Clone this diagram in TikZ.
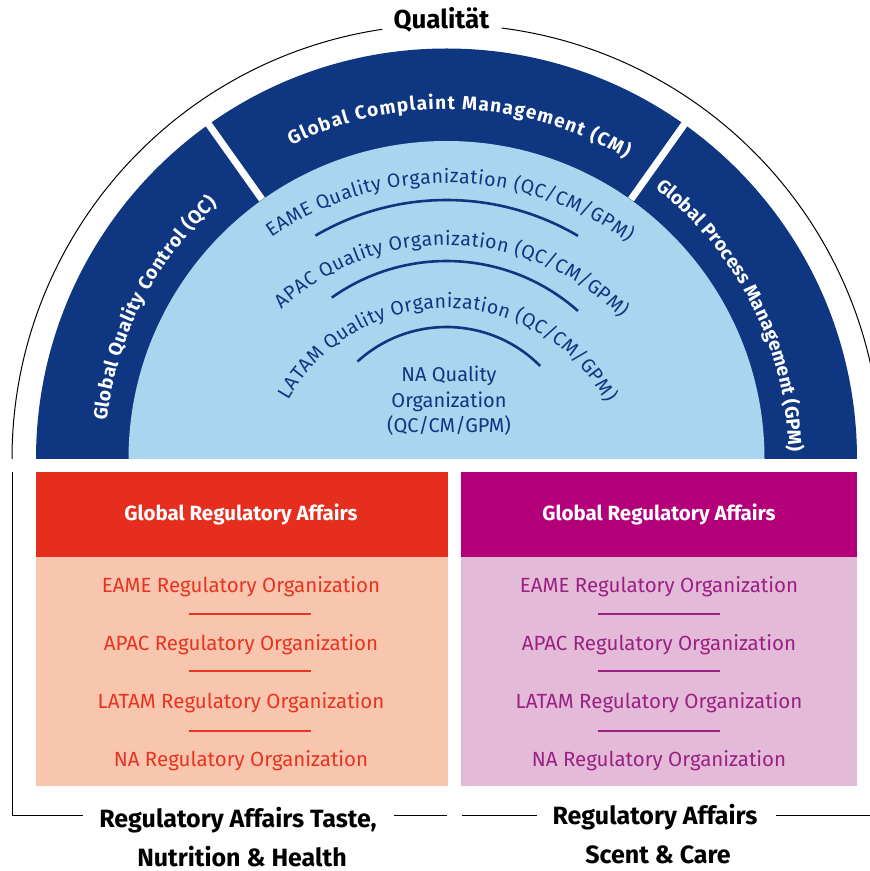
\documentclass[tikz,border=0pt]{standalone}
\usepackage{fontspec}
\setmainfont{Fira Sans}
\usetikzlibrary{decorations.text}
\definecolor{dkblue}{HTML}{0E3681}
\definecolor{ltblue}{HTML}{A9D5EF}
\definecolor{redhead}{HTML}{E62E1F}
\definecolor{redbody}{HTML}{F8C6AE}
\definecolor{redtext}{HTML}{E8331F}
\definecolor{maghead}{HTML}{B3007A}
\definecolor{magbody}{HTML}{E3BBD8}
\definecolor{magtext}{HTML}{9C1F83}
\newcommand\qband{\fontsize{19}{22}\selectfont\bfseries\color{white}}
\newcommand\qinner{\fontsize{19.5}{23}\selectfont\color{dkblue}}
\begin{document}
\begin{tikzpicture}[x=1pt,y=1pt,
  boxtext/.style={font=\fontsize{20.5}{24}\selectfont, anchor=base},
  headtext/.style={font=\bfseries\fontsize{20.5}{24}\selectfont, text=white, anchor=base},
  labeltext/.style={font=\bfseries\fontsize{25}{29}\selectfont, anchor=base},
  sepline/.style={line width=1.3pt},
  frame/.style={line width=1pt, black}]
\useasboundingbox (0,0) rectangle (870,871);
\coordinate (C) at (446.5,412);
\coordinate (T) at (446.5,381);
% outer frame arc
\draw[frame] ([shift={(180:434.5)}]C) arc[start angle=180,end angle=98.5,radius=434.5];
\draw[frame] ([shift={(82.7:434.5)}]C) arc[start angle=82.7,end angle=0,radius=434.5];
\node[labeltext,font=\bfseries\fontsize{26}{30}\selectfont] (qual) at (441.5,842) {Qualität};
% bands
\fill[dkblue] ([shift={(180:410.5)}]C) arc[start angle=180,end angle=0,radius=410.5] -- cycle;
\fill[ltblue] ([shift={(180:318)}]C) arc[start angle=180,end angle=0,radius=318] -- cycle;
\draw[white,line width=7pt] ([shift={(125.4:318.5)}]C) -- ([shift={(125.4:413)}]C);
\draw[white,line width=7pt] ([shift={(54.6:318.5)}]C) -- ([shift={(54.6:413)}]C);
% band texts
\path[decoration={text along path,text={|\qband|Global Quality Control (QC)},text align=fit to path},decorate]
  ([shift={(173.6:342)}]C) arc[start angle=173.6,end angle=132,radius=342];
\path[decoration={text along path,text={|\qband|Global Complaint Management (CM)},text align=fit to path},decorate]
  ([shift={(116.3:350)}]C) arc[start angle=116.3,end angle=59.2,radius=350];
\path[decoration={text along path,text={|\qband|Global Process Management (GPM)},text align=fit to path},decorate]
  ([shift={(52.4:342)}]C) arc[start angle=52.4,end angle=1.2,radius=342];
% inner texts
\path[decoration={text along path,text={|\qinner|EAME Quality Organization (QC/CM/GPM)},text align=fit to path},decorate]
  ([shift={(124.8:307)}]T) arc[start angle=124.8,end angle=53.8,radius=307];
\path[decoration={text along path,text={|\qinner|APAC Quality Organization (QC/CM/GPM)},text align=fit to path},decorate]
  ([shift={(132.4:245)}]T) arc[start angle=132.4,end angle=44.6,radius=245];
\path[decoration={text along path,text={|\qinner|LATAM Quality Organization (QC/CM/GPM)},text align=fit to path},decorate]
  ([shift={(150.4:182)}]T) arc[start angle=150.4,end angle=28.6,radius=182];
\draw[dkblue,line width=2.6pt] ([shift={(120.4:259)}]C) arc[start angle=120.4,end angle=59.5,radius=259];
\draw[dkblue,line width=2.6pt] ([shift={(125.4:198)}]C) arc[start angle=125.4,end angle=48.4,radius=198];
\draw[dkblue,line width=2.6pt] ([shift={(132.4:132)}]C) arc[start angle=132.4,end angle=44.8,radius=132];
\node[font=\fontsize{20}{25.5}\selectfont,text=dkblue,align=center] (na) at (449,470) {NA Quality\\Organization\\(QC/CM/GPM)};
% boxes
\fill[redhead] (36,399) rectangle (448,314);
\fill[redbody] (36,314) rectangle (448,85);
\fill[maghead] (461,399) rectangle (857,314);
\fill[magbody] (461,314) rectangle (857,85);
\node[headtext] (rh) at (241,350) {Global Regulatory Affairs};
\node[headtext] (mh) at (659,350) {Global Regulatory Affairs};
\node[boxtext,text=redtext] (r1) at (241,278) {EAME Regulatory Organization};
\node[boxtext,text=redtext] (r2) at (241,220) {APAC Regulatory Organization};
\node[boxtext,text=redtext] (r3) at (241,162) {LATAM Regulatory Organization};
\node[boxtext,text=redtext] (r4) at (241,104) {NA Regulatory Organization};
\node[boxtext,text=magtext] (m1) at (659,278) {EAME Regulatory Organization};
\node[boxtext,text=magtext] (m2) at (659,220) {APAC Regulatory Organization};
\node[boxtext,text=magtext] (m3) at (659,162) {LATAM Regulatory Organization};
\node[boxtext,text=magtext] (m4) at (659,104) {NA Regulatory Organization};
\draw[sepline,redtext] (189,257) -- (311,257);
\draw[sepline,redtext] (189,200) -- (311,200);
\draw[sepline,redtext] (189,140) -- (311,140);
\draw[sepline,magtext] (598,257) -- (720,257);
\draw[sepline,magtext] (598,200) -- (720,200);
\draw[sepline,magtext] (598,140) -- (720,140);
% bottom frame and labels
\draw[frame] (12,399) -- (12,55) -- (83,55);
\draw[frame] (394,55) -- (447,55);
\draw[frame] (462,55) -- (537,55);
\draw[frame] (776,55) -- (872,55);
\node[labeltext] (lt1) at (238,43) {Regulatory Affairs Taste,};
\node[labeltext] (lt2) at (242,5) {Nutrition \& Health};
\node[labeltext] (ls1) at (655,46) {Regulatory Affairs};
\node[labeltext] (ls2) at (658,8) {Scent \& Care};
\end{tikzpicture}
\end{document}
